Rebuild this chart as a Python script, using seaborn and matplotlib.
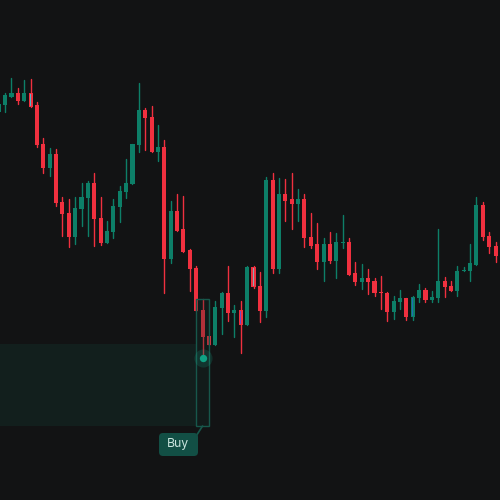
import numpy as np
import pandas as pd
import matplotlib
matplotlib.use("Agg")
import matplotlib.pyplot as plt
import seaborn as sns
from matplotlib.patches import FancyBboxPatch, Rectangle

# candle values, y scale runs downward like the screen
body_top = [104, 95, 92.7, 92.7, 92.7, 92.7, 105, 144, 154, 154,
            202, 213.3, 208.3, 197, 183, 183, 218.3, 231, 205.7, 190.7,
            183, 144, 110, 110, 116.7, 147, 147, 210.7, 210.7, 229.3,
            250.3, 268.3, 310, 336, 307.3, 293.3, 293.3, 310, 310, 267.3,
            267.3, 286, 180.3, 180.3, 194.3, 194.3, 199.3, 199.3, 199.3, 237,
            244.3, 244.3, 244.3, 242, 242, 242, 273.3, 278.3, 278.3, 281,
            292, 293.3, 301, 298.3, 298.3, 297.3, 290, 289.7, 297, 281,
            281, 286, 271, 270, 263.3, 205.3, 205.3, 235.7, 245.7]
body_bottom = [112, 105, 96.7, 100.7, 100.7, 106.7, 145, 167.7, 167.7, 202.7,
               214, 236.7, 236.7, 209, 197.7, 219.3, 243.3, 243.3, 232, 207,
               192, 184.3, 145, 118, 151.7, 151.7, 259.3, 259.3, 230.7, 251.7,
               269.3, 310.7, 336.7, 345, 345, 308.3, 313.3, 313.3, 325, 325,
               286.7, 311, 311, 269.3, 269.3, 200.7, 204, 204, 238.3, 245.7,
               262, 262, 261, 261, 243.3, 274.7, 282, 282, 282, 293.3,
               293.3, 312, 312, 302.3, 317, 317, 298.3, 299.7, 299.7, 298.3,
               287, 291, 291, 271, 271, 264.7, 237, 247, 255.7]
wick_top = [103, 92.7, 78, 87.7, 80, 79, 102.3, 138.3, 148.3, 149.3,
            196.7, 199.3, 196.7, 183.3, 180.7, 173.3, 196.7, 221, 199.3, 185.7,
            159, 144, 83, 107.7, 106.3, 125.3, 140, 200.7, 194.3, 195.7,
            249.3, 266, 299, 336, 301, 292.3, 266, 305, 301, 266,
            266.3, 272, 177, 173.3, 178.3, 179, 173.3, 189.3, 194, 213,
            223, 238, 232, 233, 215.3, 238, 262, 264.3, 269.3, 278.3,
            276, 292, 296, 289.7, 298.3, 296, 284.3, 288.3, 291, 229.3,
            277.3, 281, 266, 267.3, 244.3, 197.3, 202.3, 232, 242]
wick_bottom = [112, 111.7, 96.7, 104, 100.7, 106.7, 146.7, 172.7, 175.7, 205.7,
               235.7, 246.7, 244.3, 225.7, 235.7, 245.7, 244.7, 243.3, 238.3, 221.7,
               197.7, 184.3, 151.7, 150.3, 151.7, 160.7, 293.3, 263.3, 230.7, 251.7,
               290.7, 310.7, 358, 345, 345, 333.7, 320.7, 337, 353.3, 325,
               288.3, 322, 317, 273.3, 273.3, 220.7, 229.3, 220.7, 246.7, 248.3,
               268.7, 281, 263.3, 278.3, 248.3, 274.7, 284.7, 288.7, 293.7, 296,
               308.7, 321, 318.7, 308.7, 319.7, 320, 302.3, 302.3, 302.3, 302.3,
               297.3, 291, 296, 271, 281, 264.7, 239.7, 253.3, 262]
down_idx = [3, 5, 6, 7, 9, 10, 11, 15, 16, 23, 24, 26, 28, 29, 30, 31, 32, 33,
            36, 38, 40, 41, 43, 45, 46, 48, 49, 50, 52, 55, 56, 58, 59, 60, 61,
            64, 67, 70, 71, 76, 77, 78]
direction = ["down" if i in down_idx else "up" for i in range(len(body_top))]

# inner tint seen in a few candle bodies
tinted = {5: "#4fb8c8", 38: "#6a4fc0", 40: "#8fa8b0", 65: "#1f6fb5"}

BG = "#121314"
RED = "#f0303f"
GREEN = "#0d7f68"

df = pd.DataFrame({
    "idx": np.arange(len(body_top)),
    "top": body_top,
    "bottom": body_bottom,
    "wick_top": wick_top,
    "wick_bottom": wick_bottom,
    "direction": direction,
})
df["height"] = df["bottom"] - df["top"]

sns.set_theme(style="dark", rc={"axes.facecolor": BG, "figure.facecolor": BG})
plt.rcParams["font.family"] = ["Inter", "DejaVu Sans"]

fig = plt.figure(figsize=(5, 5), dpi=100)
ax = fig.add_axes([0, 0, 1, 1])

# wicks
wicks = df.melt(id_vars=["idx", "direction"], value_vars=["wick_top", "wick_bottom"], value_name="y")
for d, c in [("down", RED), ("up", GREEN)]:
    sns.lineplot(data=wicks[wicks.direction == d], x="idx", y="y", units="idx", estimator=None,
                 color=c, lw=1.0, ax=ax, zorder=2)

# bodies
for d, c in [("down", RED), ("up", GREEN)]:
    sub = df[df.direction == d]
    sns.barplot(data=sub, x="idx", y="height", bottom=sub["top"].values, native_scale=True,
                width=0.64, color=c, saturation=1, errorbar=None, linewidth=0, ax=ax, zorder=3)
for i, c in tinted.items():
    ax.bar(i, df.height[i] - 2, bottom=df.top[i] + 1, width=0.22, color=c, lw=0, zorder=4)

ax.set_xlim(0.2, 78.7)
ax.set_ylim(500, 0)
ax.set_axis_off()

# entry zone
ax.add_patch(Rectangle((-1, 344), 31.9, 82, color="#14b08f", alpha=0.08, lw=0, zorder=5))
ax.add_patch(Rectangle((30.95, 299), 2.1, 127, facecolor="#12332c", alpha=0.28, lw=0, zorder=5))
ax.add_patch(Rectangle((30.95, 299), 2.1, 127, fill=False, edgecolor="#17574b", lw=1, zorder=6))

# buy marker
ax.scatter([32], [358], s=170, color="#14b08f", alpha=0.18, lw=0, zorder=7)
ax.scatter([32], [358], s=28, color="#0fa284", lw=0, zorder=8)

# label
ax.plot([32.0, 31.0], [426, 436], color="#17574b", lw=1.2, zorder=6)
ax.add_patch(FancyBboxPatch((159 / 500, 1 - 456 / 500), 39 / 500, 23 / 500,
                            boxstyle="round,pad=0,rounding_size=0.008", transform=ax.transAxes,
                            facecolor="#124f45", edgecolor="none", zorder=9))
ax.text(178 / 500, 1 - 444.5 / 500, "Buy", transform=ax.transAxes, ha="center", va="center",
        fontsize=8.8, color="#c9e4de", zorder=10)

fig.savefig("out.png", dpi=100, facecolor=BG)
